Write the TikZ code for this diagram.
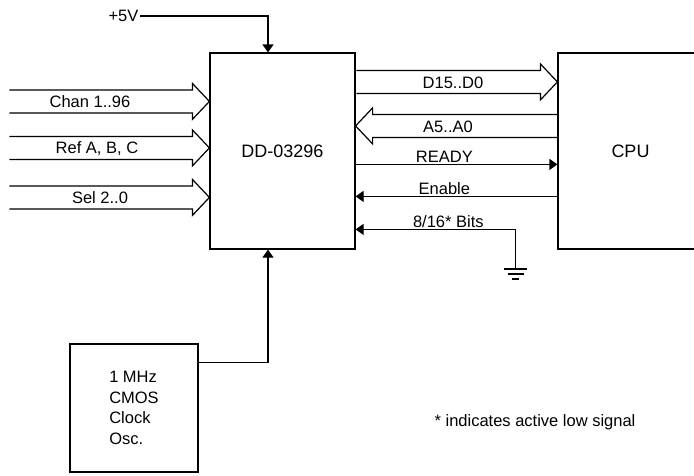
\documentclass[tikz,border=0pt]{standalone}
\usepackage{fontspec}
\setmainfont{Liberation Sans}
\usetikzlibrary{arrows.meta, positioning, calc}

\begin{document}
\begin{tikzpicture}[
  x=1pt, y=1pt, line width=1.2pt,
  blk/.style={draw, minimum width=145pt, minimum height=196pt, inner sep=0pt, font=\fontsize{18}{21}\selectfont},
  lbl/.style={inner sep=1pt, font=\fontsize{16.5}{20.5}\selectfont},
  sig/.style={-{Triangle[length=8pt, width=11pt]}},
  pics/bus/.style={code={
    \draw (-#1,11.5) -- (-17,11.5) -- (-17,18) -- (0,0) -- (-17,-18) -- (-17,-11.5) -- (-#1,-11.5);
  }}
]
  \useasboundingbox (0,0) rectangle (694,-475);
  \clip (0,0) rectangle (694,-475);

  \node[blk] (chip) at (282.5,-151) {DD-03296};
  \node[blk] (cpu) at (630.5,-151) {CPU};
  \node[draw, lbl, minimum width=128pt, minimum height=128pt, align=left] (osc) at (134,-408) {1 MHz\\CMOS\\Clock\\Osc.};

  % supply and clock
  \node[lbl, anchor=east] (vcc) at (140,-16) {+5V};
  \draw[sig] (vcc.east) -| ([xshift=-14.5pt]chip.north);
  \draw[sig] ([yshift=-19pt]osc.north east) -| ([xshift=-14.5pt]chip.south);

  % input buses
  \pic at ([yshift=-49pt]chip.north west) {bus=200};
  \pic at ([yshift=-95.5pt]chip.north west) {bus=200};
  \pic at ([yshift=-145pt]chip.north west) {bus=200};
  \node[lbl] at (90,-102) {Chan 1..96};
  \node[lbl] at (97,-148.5) {Ref A, B, C};
  \node[lbl] at (100,-198) {Sel 2..0};

  % cpu side
  \pic at ([yshift=-29.5pt]cpu.north west) {bus=201};
  \pic[rotate=180] at ([yshift=-73.5pt]chip.north east) {bus=203};
  \node[lbl] at (453,-82.5) {D15..D0};
  \node[lbl] at (448,-126.5) {A5..A0};
  \draw[sig] ([yshift=-112pt]chip.north east) -- node[lbl, above, pos=0.44] {READY} ([yshift=-112pt]cpu.north west);
  \draw[sig] ([yshift=-144pt]cpu.north west) -- node[lbl, above, pos=0.56] {Enable} ([yshift=-144pt]chip.north east);

  % width select tied low
  \coordinate (gnd) at (515.5,-269);
  \draw[sig] (gnd) |- node[lbl, above, pos=0.71] {8/16* Bits} ([yshift=-177pt]chip.north east);
  \draw[line width=1.5pt] ([xshift=-11.5pt]gnd) -- ([xshift=11.5pt]gnd)
    ([shift={(-8,-5)}]gnd) -- ++(16,0)
    ([shift={(-3.5,-10)}]gnd) -- ++(7,0);

  \node[lbl, anchor=west] (note) at (433,-422) {* indicates active low signal};
\end{tikzpicture}
\end{document}
